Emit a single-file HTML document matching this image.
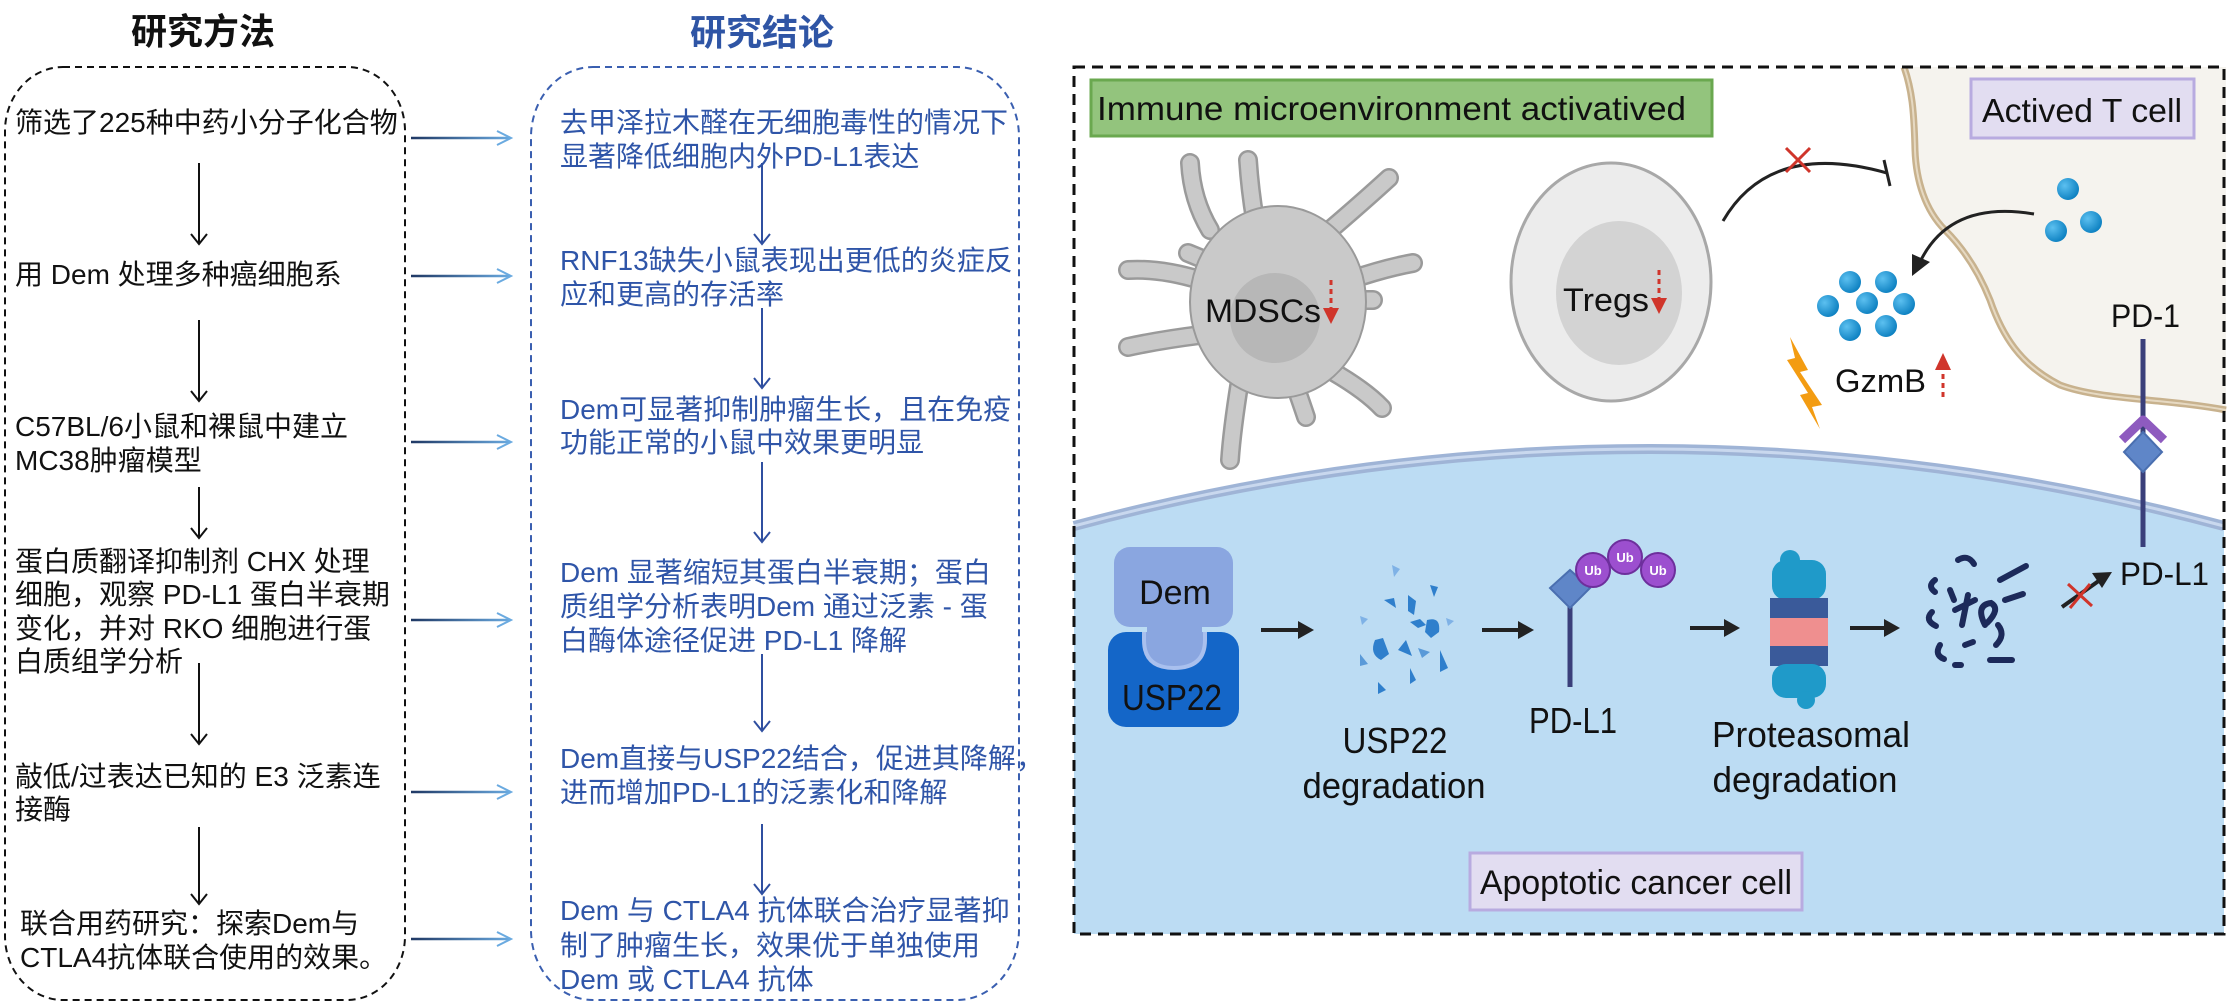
<!DOCTYPE html>
<html><head><meta charset="utf-8"><style>
html,body{margin:0;padding:0;background:#fff;}
svg{display:block;}
.cn{font-family:"Liberation Sans","Noto Sans CJK SC",sans-serif;font-size:28px;}
.lb{font-family:"Liberation Sans",sans-serif;fill:#111;}
</style></head><body>
<svg width="2229" height="1005" viewBox="0 0 2229 1005" xmlns="http://www.w3.org/2000/svg">
<defs>
<linearGradient id="hg" gradientUnits="userSpaceOnUse" x1="411" y1="0" x2="511" y2="0"><stop offset="0" stop-color="#1f3864"/><stop offset="1" stop-color="#6aaae0"/></linearGradient>
<radialGradient id="dot" cx="0.35" cy="0.35" r="0.7"><stop offset="0" stop-color="#5cc0f0"/><stop offset="1" stop-color="#0b7fc0"/></radialGradient>
</defs>

<!-- LEFT PANEL -->
<text x="203" y="44" text-anchor="middle" font-family="Liberation Sans,Noto Sans CJK SC,sans-serif" font-weight="bold" font-size="36" fill="#111">研究方法</text>
<text x="762" y="45" text-anchor="middle" font-family="Liberation Sans,Noto Sans CJK SC,sans-serif" font-weight="bold" font-size="36" fill="#2f55a5">研究结论</text>
<rect x="5" y="67" width="400" height="933" rx="58" ry="64" fill="none" stroke="#111" stroke-width="2" stroke-dasharray="7,5"/>
<rect x="531" y="67" width="488" height="933" rx="62" ry="70" fill="none" stroke="#3a5fb0" stroke-width="2" stroke-dasharray="7,5"/>

<g class="cn" fill="#111">
<text x="15" y="132">筛选了225种中药小分子化合物</text>
<text x="15" y="284">用 Dem 处理多种癌细胞系</text>
<text x="15" y="436">C57BL/6小鼠和裸鼠中建立</text>
<text x="15" y="470">MC38肿瘤模型</text>
<text x="15" y="571">蛋白质翻译抑制剂 CHX 处理</text>
<text x="15" y="604">细胞，观察 PD-L1 蛋白半衰期</text>
<text x="15" y="638">变化，并对 RKO 细胞进行蛋</text>
<text x="15" y="671">白质组学分析</text>
<text x="15" y="786">敲低/过表达已知的 E3 泛素连</text>
<text x="15" y="819">接酶</text>
<text x="20" y="933">联合用药研究：探索Dem与</text>
<text x="20" y="967">CTLA4抗体联合使用的效果。</text>
</g>
<g stroke="#111" stroke-width="2" fill="none">
<path d="M199 163V244M191 234L199 244L207 234"/>
<path d="M199 320V401M191 391L199 401L207 391"/>
<path d="M199 487V538M191 528L199 538L207 528"/>
<path d="M199 663V744M191 734L199 744L207 734"/>
<path d="M199 827V904M191 894L199 904L207 894"/>
</g>
<g stroke-width="2.5" fill="none">
<g stroke="url(#hg)">
<path d="M411 138H510"/><path d="M411 276H510"/><path d="M411 442H510"/><path d="M411 620H510"/><path d="M411 792H510"/><path d="M411 939H510"/>
</g>
<g stroke="#6aaae0" stroke-width="2">
<path d="M497 131L511 138L497 145"/><path d="M497 269L511 276L497 283"/><path d="M497 435L511 442L497 449"/><path d="M497 613L511 620L497 627"/><path d="M497 785L511 792L497 799"/><path d="M497 932L511 939L497 946"/>
</g>
</g>

<g class="cn" fill="#2f55a8">
<text x="560" y="132">去甲泽拉木醛在无细胞毒性的情况下</text>
<text x="560" y="166">显著降低细胞内外PD-L1表达</text>
<text x="560" y="270">RNF13缺失小鼠表现出更低的炎症反</text>
<text x="560" y="304">应和更高的存活率</text>
<text x="560" y="419">Dem可显著抑制肿瘤生长，且在免疫</text>
<text x="560" y="452">功能正常的小鼠中效果更明显</text>
<text x="560" y="582">Dem 显著缩短其蛋白半衰期；蛋白</text>
<text x="560" y="616">质组学分析表明Dem 通过泛素 - 蛋</text>
<text x="560" y="650">白酶体途径促进 PD-L1 降解</text>
<text x="560" y="768">Dem直接与USP22结合，促进其降解，</text>
<text x="560" y="802">进而增加PD-L1的泛素化和降解</text>
<text x="560" y="920">Dem 与 CTLA4 抗体联合治疗显著抑</text>
<text x="560" y="955">制了肿瘤生长，效果优于单独使用</text>
<text x="560" y="989">Dem 或 CTLA4 抗体</text>
</g>
<g stroke="#2f4fa0" stroke-width="2" fill="none">
<path d="M762 163V244M754 234L762 244L770 234"/>
<path d="M762 308V388M754 378L762 388L770 378"/>
<path d="M762 462V542M754 532L762 542L770 532"/>
<path d="M762 654V731M754 721L762 731L770 721"/>
<path d="M762 824V894M754 884L762 894L770 884"/>
</g>

<!-- RIGHT PANEL -->
<path d="M1074 526 Q1649 372 2224 526 V934 H1074 Z" fill="#bcdcf3"/>
<path d="M1074 526 Q1649 372 2224 526" fill="none" stroke="#9fb4d6" stroke-width="10"/>
<path d="M1074 526 Q1649 372 2224 526" fill="none" stroke="#c9d8ee" stroke-width="3"/>
<path d="M1904 67 C1912 90 1914 110 1915 150 C1916 180 1925 210 1945 230 C1965 250 1980 275 1990 300 C2002 335 2020 365 2060 385 C2100 400 2160 398 2226 410 V67 Z" fill="#f5f3ee"/>
<path d="M1904 67 C1912 90 1914 110 1915 150 C1916 180 1925 210 1945 230 C1965 250 1980 275 1990 300 C2002 335 2020 365 2060 385 C2100 400 2160 398 2226 410" fill="none" stroke="#c8b28e" stroke-width="7"/>
<path d="M1904 67 C1912 90 1914 110 1915 150 C1916 180 1925 210 1945 230 C1965 250 1980 275 1990 300 C2002 335 2020 365 2060 385 C2100 400 2160 398 2226 410" fill="none" stroke="#e6d9c2" stroke-width="2"/>

<rect x="1074" y="67" width="1150" height="867" fill="none" stroke="#111" stroke-width="3" stroke-dasharray="11,7"/>

<rect x="1091" y="80" width="621" height="56" fill="#93c47d" stroke="#6aa84f" stroke-width="3"/>
<text x="1097" y="120" class="lb" font-size="33" textLength="589" lengthAdjust="spacingAndGlyphs">Immune microenvironment activatived</text>
<rect x="1971" y="79" width="223" height="59" fill="#e2ddf1" stroke="#b8abe0" stroke-width="3"/>
<text x="1982" y="122" class="lb" font-size="33" textLength="200" lengthAdjust="spacingAndGlyphs">Actived T cell</text>

<!-- MDSC -->
<g fill="none" stroke-linecap="round" stroke-linejoin="round">
<path id="arms" d="M1210 230 Q1192 200 1190 163 M1255 220 Q1250 190 1248 160 M1330 230 Q1365 200 1389 178 M1350 280 Q1385 268 1413 263 M1350 300 L1373 300 M1200 280 Q1160 268 1128 270 M1200 335 Q1160 340 1128 347 M1205 260 L1188 253 M1240 380 Q1232 430 1230 460 M1330 370 Q1365 390 1382 408 M1295 385 Q1302 405 1306 417" stroke="#9a9a9a" stroke-width="20"/>
<path d="M1210 230 Q1192 200 1190 163 M1255 220 Q1250 190 1248 160 M1330 230 Q1365 200 1389 178 M1350 280 Q1385 268 1413 263 M1350 300 L1373 300 M1200 280 Q1160 268 1128 270 M1200 335 Q1160 340 1128 347 M1205 260 L1188 253 M1240 380 Q1232 430 1230 460 M1330 370 Q1365 390 1382 408 M1295 385 Q1302 405 1306 417" stroke="#c9c9c9" stroke-width="15"/>
</g>
<ellipse cx="1278" cy="302" rx="88" ry="96" fill="#c9c9c9" stroke="#9a9a9a" stroke-width="2"/>
<circle cx="1275" cy="318" r="45" fill="#b7b7b7"/>
<text x="1205" y="322" class="lb" font-size="32" textLength="116" lengthAdjust="spacingAndGlyphs">MDSCs</text>
<path d="M1331 280V308" stroke="#d0352b" stroke-width="3" stroke-dasharray="5,4"/>
<path d="M1323 308L1339 308L1331 324Z" fill="#d0352b"/>

<!-- Tregs -->
<ellipse cx="1611" cy="282" rx="100" ry="119" fill="#ececec" stroke="#a8a8a8" stroke-width="3"/>
<ellipse cx="1619" cy="293" rx="63" ry="72" fill="#d3d3d3"/>
<text x="1563" y="311" class="lb" font-size="32" textLength="86" lengthAdjust="spacingAndGlyphs">Tregs</text>
<path d="M1659 270V298" stroke="#d0352b" stroke-width="3" stroke-dasharray="5,4"/>
<path d="M1651 298L1667 298L1659 314Z" fill="#d0352b"/>

<path d="M1723 221 Q1770 140 1887 173" fill="none" stroke="#222" stroke-width="3"/>
<path d="M1884 160L1890 186" stroke="#222" stroke-width="3"/>
<path d="M1786 148L1810 172M1810 148L1786 172" stroke="#d0352b" stroke-width="3"/>

<circle cx="2068" cy="189" r="11" fill="url(#dot)"/>
<circle cx="2056" cy="231" r="11" fill="url(#dot)"/>
<circle cx="2091" cy="222" r="11" fill="url(#dot)"/>
<path d="M2034 214 Q1950 200 1920 262" fill="none" stroke="#222" stroke-width="3"/>
<path d="M1912 276L1912 254L1930 262Z" fill="#222"/>
<g fill="url(#dot)">
<circle cx="1850" cy="282" r="11"/><circle cx="1886" cy="282" r="11"/><circle cx="1828" cy="306" r="11"/><circle cx="1867" cy="303" r="11"/><circle cx="1904" cy="304" r="11"/><circle cx="1850" cy="330" r="11"/><circle cx="1886" cy="326" r="11"/>
</g>
<path d="M1790 337L1808 370L1800 372L1822 405L1812 407L1820 429L1800 395L1808 393L1787 360L1795 358Z" fill="#f39c12"/>
<text x="1835" y="392" class="lb" font-size="32" textLength="91" lengthAdjust="spacingAndGlyphs">GzmB</text>
<path d="M1943 397V369" stroke="#d0352b" stroke-width="3" stroke-dasharray="5,4"/>
<path d="M1935 370L1951 370L1943 353Z" fill="#d0352b"/>

<text x="2111" y="327" class="lb" font-size="32" textLength="69" lengthAdjust="spacingAndGlyphs">PD-1</text>
<path d="M2143 339V547" stroke="#3a3f7a" stroke-width="5"/>
<path d="M2122 440L2143 420L2164 440" fill="none" stroke="#8e5bbf" stroke-width="9" stroke-linejoin="round"/>
<path d="M2143 432L2162 452L2143 472L2124 452Z" fill="#5f86c8" stroke="#4a6fb0" stroke-width="2"/>
<text x="2120" y="585" class="lb" font-size="32" textLength="89" lengthAdjust="spacingAndGlyphs">PD-L1</text>
<path d="M2062 607L2100 580" stroke="#222" stroke-width="4"/>
<path d="M2112 572L2092 573L2102 588Z" fill="#222"/>
<path d="M2068 584L2092 606M2070 608L2090 584" stroke="#d0352b" stroke-width="3"/>

<rect x="1108" y="632" width="131" height="95" rx="18" fill="#1466c8"/>
<path d="M1144 632 V640 Q1144 668 1174 668 Q1205 668 1205 640 V632" fill="#8aa6e0" stroke="#a9c0ee" stroke-width="4"/>
<rect x="1114" y="547" width="119" height="80" rx="16" fill="#8aa6e0"/>
<rect x="1147" y="620" width="55" height="20" fill="#8aa6e0"/>
<text x="1175" y="604" text-anchor="middle" class="lb" font-size="34" fill="#1a2040">Dem</text>
<text x="1172" y="710" text-anchor="middle" class="lb" font-size="36" fill="#14204a" textLength="100" lengthAdjust="spacingAndGlyphs">USP22</text>

<g fill="#222">
<path d="M1261 630H1300" stroke="#222" stroke-width="4"/><path d="M1298 621L1314 630L1298 639Z"/>
<path d="M1482 630H1520" stroke="#222" stroke-width="4"/><path d="M1518 621L1534 630L1518 639Z"/>
<path d="M1690 628H1726" stroke="#222" stroke-width="4"/><path d="M1724 619L1740 628L1724 637Z"/>
<path d="M1850 628H1886" stroke="#222" stroke-width="4"/><path d="M1884 619L1900 628L1884 637Z"/>
</g>

<g fill="#2f7fcc">
<path d="M1392 565l8 4-6 8z" fill="#7fb2e6"/><path d="M1430 585l8 2-4 10z"/><path d="M1384 600l10-2 2 10z"/>
<path d="M1408 595l8 6-2 14-6-4z"/><path d="M1410 622l10-3 6 6-8 3z"/><path d="M1427 620q14-4 12 12l-8 6-6-6z"/>
<path d="M1375 640q-6 14 6 20l8-6-6-16z"/><path d="M1398 650l8-10 6 16z"/><path d="M1418 648l12 4-8 6z" fill="#5a9ad8"/>
<path d="M1440 650l8 18-8 4z"/><path d="M1360 616l8 3-6 6z" fill="#7fb2e6"/><path d="M1446 618l8 3-6 5z" fill="#7fb2e6"/>
<path d="M1360 654l8 10-8 2z" fill="#5a9ad8"/><path d="M1410 668l6 12-6 4z"/><path d="M1378 682l8 8-8 4z"/>
</g>

<path d="M1570 607V687" stroke="#3a3f7a" stroke-width="5"/>
<path d="M1570 570L1590 588L1570 608L1550 588Z" fill="#5f86c8" stroke="#4a6fb0" stroke-width="2"/>
<g fill="#9c4fcf" stroke="#6d2f9c" stroke-width="2">
<circle cx="1593" cy="570" r="17"/><circle cx="1625" cy="557" r="17"/><circle cx="1658" cy="570" r="17"/>
</g>
<g font-family="Liberation Sans,sans-serif" font-size="13" font-weight="bold" fill="#fff" text-anchor="middle">
<text x="1593" y="575">Ub</text><text x="1625" y="562">Ub</text><text x="1658" y="575">Ub</text>
</g>
<text x="1573" y="733" text-anchor="middle" class="lb" font-size="36" textLength="88" lengthAdjust="spacingAndGlyphs">PD-L1</text>
<text x="1395" y="753" text-anchor="middle" class="lb" font-size="36" textLength="105" lengthAdjust="spacingAndGlyphs">USP22</text>
<text x="1394" y="798" text-anchor="middle" class="lb" font-size="36" textLength="183" lengthAdjust="spacingAndGlyphs">degradation</text>

<g>
<rect x="1772" y="560" width="54" height="40" rx="14" fill="#1f9ac9"/>
<circle cx="1790" cy="560" r="10" fill="#1f9ac9"/>
<rect x="1770" y="598" width="58" height="20" fill="#3a5a9a"/>
<rect x="1770" y="618" width="58" height="30" fill="#ef8f8f"/>
<rect x="1770" y="646" width="58" height="20" fill="#3a5a9a"/>
<rect x="1772" y="664" width="54" height="34" rx="14" fill="#1f9ac9"/>
<circle cx="1806" cy="700" r="9" fill="#1f9ac9"/>
</g>
<text x="1811" y="747" text-anchor="middle" class="lb" font-size="36" textLength="198" lengthAdjust="spacingAndGlyphs">Proteasomal</text>
<text x="1805" y="792" text-anchor="middle" class="lb" font-size="36" textLength="185" lengthAdjust="spacingAndGlyphs">degradation</text>

<g fill="none" stroke="#1c2a5a" stroke-width="6" stroke-linecap="round">
<path d="M1958 560q10 -6 16 4"/><path d="M1935 580q-8 6 0 12"/><path d="M1950 590l4 10"/><path d="M1932 612q-8 8 4 14"/>
<path d="M1955 610l20 -10"/><path d="M1968 595l-6 30"/><path d="M1985 625q-10 -20 6 -22q10 6 -4 20"/>
<path d="M2000 580l26 -14"/><path d="M2005 600l18 -6"/><path d="M1998 625q8 10 -2 20"/><path d="M1940 645q-6 10 4 14"/>
<path d="M1965 645l8 -3"/><path d="M1990 660l22 0"/><path d="M1955 665l6 0"/>
</g>

<rect x="1470" y="853" width="332" height="57" fill="#e2ddf1" stroke="#b8abe0" stroke-width="3"/>
<text x="1480" y="894" class="lb" font-size="34" textLength="312" lengthAdjust="spacingAndGlyphs">Apoptotic cancer cell</text>
</svg>
</body></html>
